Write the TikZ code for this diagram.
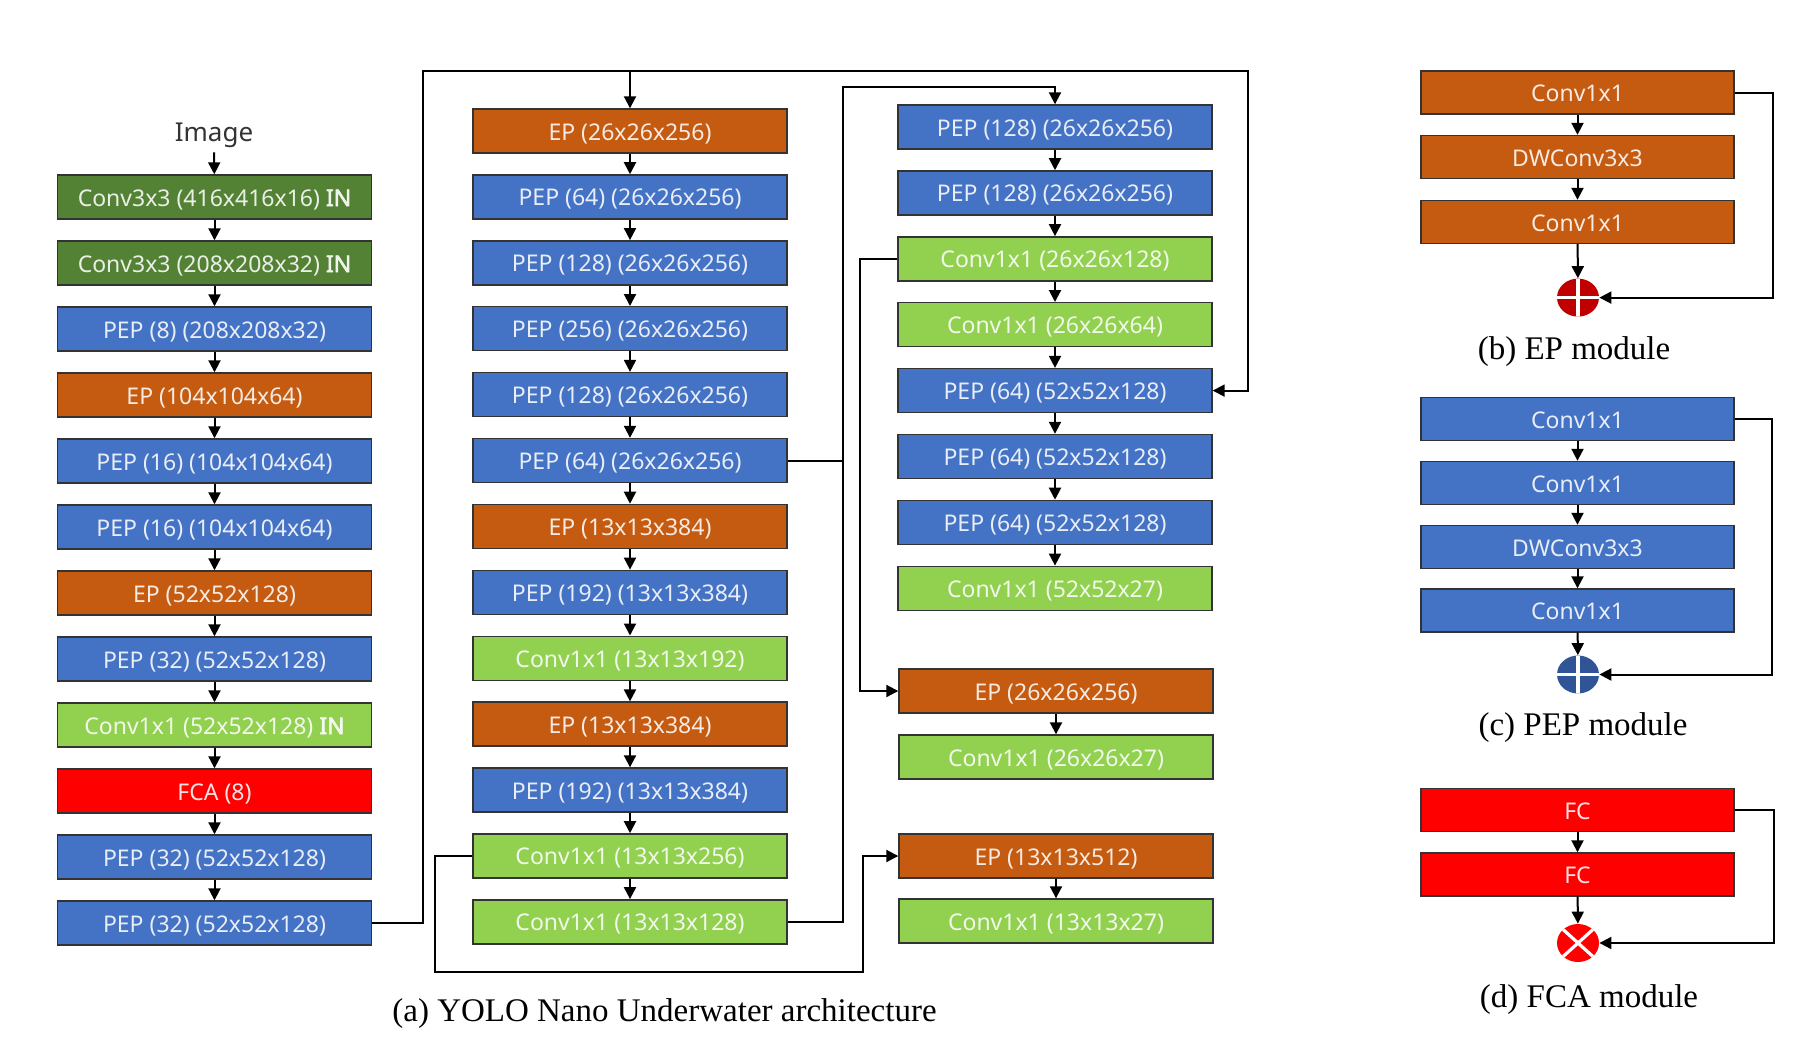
\documentclass[tikz,border=0pt]{standalone}
\usepackage{fontspec}
\setmainfont{Liberation Serif}
\newfontfamily\boxfont{Noto Sans}
\newfontfamily\boxbold{Noto Sans}[FakeBold=2.5]
\usetikzlibrary{arrows.meta,shapes.geometric,calc}
\definecolor{dgreen}{HTML}{548235}
\definecolor{pblue}{HTML}{4472C4}
\definecolor{eorange}{HTML}{C55A11}
\definecolor{lgreen}{HTML}{92D050}
\definecolor{fred}{HTML}{FF0000}
\definecolor{dred}{HTML}{C00000}
\definecolor{cblue}{HTML}{2F5597}
\newcommand{\inlabel}{{\boxbold IN}}
\begin{document}
\begin{tikzpicture}[x=0.5pt,y=-0.5pt,
  blk/.style={draw=black!80, line width=0.7pt, minimum width=157pt, minimum height=22pt,
    inner sep=0pt, text height=9.5pt, text depth=0.5pt,
    font=\boxfont\fontsize{11.5}{13}\selectfont, text=white, text opacity=0.88},
  mblk/.style={minimum width=156.5pt, minimum height=21.5pt},
  cdg/.style={blk, fill=dgreen},
  cbl/.style={blk, fill=pblue},
  cor/.style={blk, fill=eorange},
  clg/.style={blk, fill=lgreen},
  crd/.style={blk, fill=fred},
  conn/.style={line width=1pt, draw=black},
  arr/.style={conn, -{Triangle[length=6pt,width=6pt]}},
  sym/.style={ellipse, minimum width=21pt, minimum height=19pt, inner sep=0pt},
  plus/.style={sym, path picture={\draw[white, line width=1.6pt]
      (path picture bounding box.north) -- (path picture bounding box.south)
      (path picture bounding box.east) -- (path picture bounding box.west);}},
  cross/.style={sym, path picture={\draw[white, line width=1.6pt]
      (path picture bounding box.north west) -- (path picture bounding box.south east)
      (path picture bounding box.north east) -- (path picture bounding box.south west);}},
  captxt/.style={font=\fontsize{16.5}{19}\selectfont, inner sep=0pt},
]
\useasboundingbox (0,0) rectangle (1795,1045);

% column 1
\node[font=\boxfont\fontsize{13}{15}\selectfont, text=black!80, inner sep=2pt] (img) at (214,135.5) {Image};
\foreach \st/\tx [count=\i] in {
  cdg/{Conv3x3 (416x416x16) \inlabel},
  cdg/{Conv3x3 (208x208x32) \inlabel},
  cbl/{PEP (8) (208x208x32)},
  cor/{EP (104x104x64)},
  cbl/{PEP (16) (104x104x64)},
  cbl/{PEP (16) (104x104x64)},
  cor/{EP (52x52x128)},
  cbl/{PEP (32) (52x52x128)},
  clg/{Conv1x1 (52x52x128) \inlabel},
  crd/{FCA (8)},
  cbl/{PEP (32) (52x52x128)},
  cbl/{PEP (32) (52x52x128)}}
  \node[\st] (a\i) at (214.5,{131+66*\i}) {\tx};
\draw[arr] (img) -- (a1);
\foreach \i in {1,...,11}{
  \pgfmathtruncatemacro{\j}{\i+1}
  \draw[arr] (a\i) -- (a\j);
}

% column 2
\foreach \st/\tx [count=\i from 0] in {
  cor/{EP (26x26x256)},
  cbl/{PEP (64) (26x26x256)},
  cbl/{PEP (128) (26x26x256)},
  cbl/{PEP (256) (26x26x256)},
  cbl/{PEP (128) (26x26x256)},
  cbl/{PEP (64) (26x26x256)},
  cor/{EP (13x13x384)},
  cbl/{PEP (192) (13x13x384)},
  clg/{Conv1x1 (13x13x192)},
  cor/{EP (13x13x384)},
  cbl/{PEP (192) (13x13x384)},
  clg/{Conv1x1 (13x13x256)},
  clg/{Conv1x1 (13x13x128)}}
  \node[\st] (b\i) at (630,{131+65.9*\i}) {\tx};
\foreach \i in {0,...,11}{
  \pgfmathtruncatemacro{\j}{\i+1}
  \draw[arr] (b\i) -- (b\j);
}

% column 3
\foreach \st/\tx [count=\i from 0] in {
  cbl/{PEP (128) (26x26x256)},
  cbl/{PEP (128) (26x26x256)},
  clg/{Conv1x1 (26x26x128)},
  clg/{Conv1x1 (26x26x64)},
  cbl/{PEP (64) (52x52x128)},
  cbl/{PEP (64) (52x52x128)},
  cbl/{PEP (64) (52x52x128)},
  clg/{Conv1x1 (52x52x27)}}
  \node[\st] (c\i) at (1055,{127+65.9*\i}) {\tx};
\foreach \i in {0,...,6}{
  \pgfmathtruncatemacro{\j}{\i+1}
  \draw[arr] (c\i) -- (c\j);
}
\node[cor] (d1) at (1056,691) {EP (26x26x256)};
\node[clg] (d2) at (1056,757) {Conv1x1 (26x26x27)};
\node[cor] (e1) at (1056,856) {EP (13x13x512)};
\node[clg] (e2) at (1056,921) {Conv1x1 (13x13x27)};
\draw[arr] (d1) -- (d2);
\draw[arr] (e1) -- (e2);

% long connectors
\coordinate (tj) at (630,71);
\draw[arr] (a12.east) -- ++(51,0) |- (1248,71) |- (c4.east);
\draw[arr] (tj) -- (b0);
\draw[arr] (b5.east) -| (843,87) -| (c0.north);
\draw[conn] (b12.east) -| (843,459);
\draw[arr] (b11.west) -- ++(-37,0) |- (863,972) |- (e1.west);
\draw[arr] (c2.west) -- ++(-37,0) |- (d1.west);

\node[captxt] (capa) at (664.5,1013.5) {(a) YOLO Nano Underwater architecture};

% EP module
\node[cor, mblk] (m1) at (1577.5,92.5) {Conv1x1};
\node[cor, mblk] (m2) at (1577.5,157) {DWConv3x3};
\node[cor, mblk] (m3) at (1577.5,222) {Conv1x1};
\node[plus, fill=dred] (s1) at (1578,297.6) {};
\draw[arr] (m1) -- (m2);
\draw[arr] (m2) -- (m3);
\draw[arr] (m3) -- (s1);
\draw[arr] (m1.east) -- ++(38,0) |- (s1.east);
\node[captxt] (capb) at (1574,351.5) {(b) EP module};

% PEP module
\node[cbl, mblk] (p1) at (1577.5,419) {Conv1x1};
\node[cbl, mblk] (p2) at (1577.5,483) {Conv1x1};
\node[cbl, mblk] (p3) at (1577.5,547) {DWConv3x3};
\node[cbl, mblk] (p4) at (1577.5,610.5) {Conv1x1};
\node[plus, fill=cblue] (s2) at (1578,674.5) {};
\draw[arr] (p1) -- (p2);
\draw[arr] (p2) -- (p3);
\draw[arr] (p3) -- (p4);
\draw[arr] (p4) -- (s2);
\draw[arr] (p1.east) -- ++(37,0) |- (s2.east);
\node[captxt] (capc) at (1583,728) {(c) PEP module};

% FCA module
\node[crd, mblk] (f1) at (1577.5,810) {FC};
\node[crd, mblk] (f2) at (1577.5,874.5) {FC};
\node[cross, fill=fred] (s3) at (1578,943) {};
\draw[arr] (f1) -- (f2);
\draw[arr] (f2) -- (s3);
\draw[arr] (f1.east) -- ++(39,0) |- (s3.east);
\node[captxt] (capd) at (1589,999.5) {(d) FCA module};
\end{tikzpicture}
\end{document}
